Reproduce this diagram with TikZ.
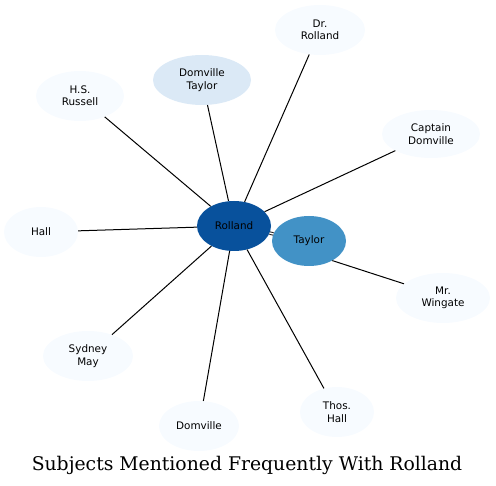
\documentclass[tikz,border=0pt]{standalone}
\usepackage{fontspec}
\setmainfont{DejaVu Sans}
\newfontfamily\titlefont{DejaVu Serif}
\usetikzlibrary{shapes.geometric}
\definecolor{cdark}{HTML}{08519C}
\definecolor{cmid}{HTML}{4292C6}
\definecolor{clight}{HTML}{DBE9F6}
\definecolor{cpale}{HTML}{F7FBFF}
\tikzset{
  ent/.style={ellipse, draw=none, inner sep=0pt, align=center,
    font=\fontsize{10.4}{12.3}\selectfont, text=black},
  link/.style={draw=black, line width=1pt},
}
\begin{document}
\begin{tikzpicture}[x=1pt,y=-1pt]
\useasboundingbox (0,0) rectangle (496,486);
\node[ent, fill=cdark, minimum width=74pt, minimum height=50pt] (rol) at (234,226) {Rolland};
\node[ent, fill=cmid, minimum width=74pt, minimum height=50pt] (tay) at (309,241) {Taylor};
\node[ent, fill=cpale, minimum width=90pt, minimum height=50pt] (dr) at (320,30) {Dr.\\Rolland};
\node[ent, fill=clight, minimum width=98pt, minimum height=50pt] (dt) at (202,80) {Domville\\Taylor};
\node[ent, fill=cpale, minimum width=88pt, minimum height=50pt] (hs) at (80,96) {H.S.\\Russell};
\node[ent, fill=cpale, minimum width=98pt, minimum height=48pt] (cd) at (431,134) {Captain\\Domville};
\node[ent, fill=cpale, minimum width=74pt, minimum height=50pt] (hall) at (41,232) {Hall};
\node[ent, fill=cpale, minimum width=94pt, minimum height=50pt] (mw) at (443,298) {Mr.\\Wingate};
\node[ent, fill=cpale, minimum width=90pt, minimum height=50pt] (sm) at (88,356) {Sydney\\May};
\node[ent, fill=cpale, minimum width=80pt, minimum height=50pt] (dom) at (199,426) {Domville};
\node[ent, fill=cpale, minimum width=74pt, minimum height=50pt] (th) at (337,412) {Thos.\\Hall};
\draw[link] (rol) -- (dr);
\draw[link] (rol) -- (dt);
\draw[link] (rol) -- (hs);
\draw[link] (rol) -- (cd);
\draw[link] (rol) -- (hall);
\draw[link] (rol) -- (sm);
\draw[link] (rol) -- (dom);
\draw[link] (rol) -- (th);
\draw[link] (tay.-40) -- (mw.160);
\draw[black, line width=0.9pt, double=white, double distance=1.6pt] (rol) -- (tay);
\node[font=\titlefont\fontsize{18.8}{22}\selectfont] (title) at (247,465) {Subjects Mentioned Frequently With Rolland};
\end{tikzpicture}
\end{document}
